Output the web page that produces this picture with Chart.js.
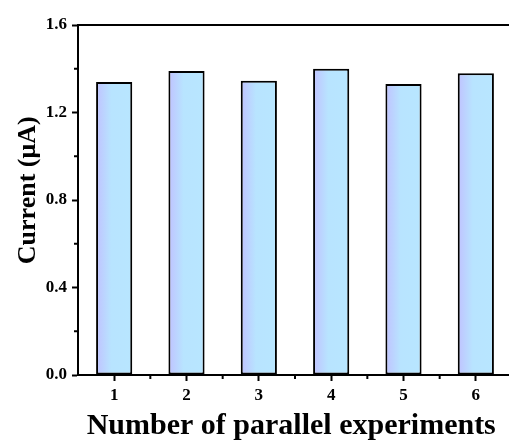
<!DOCTYPE html>
<html>
<head>
<meta charset="utf-8">
<script src="https://cdn.jsdelivr.net/npm/chart.js@4"></script>
<style>
  body { margin: 0; overflow: hidden; background: #fff; }
  #wrap { width: 514px; height: 447px; }
</style>
</head>
<body>
<div id="wrap"><canvas id="grafico"></canvas></div>
<script>
const categorias = ['1', '2', '3', '4', '5', '6'];
const correntes = [1.34, 1.39, 1.345, 1.40, 1.33, 1.38];
const ticksMaiores = [0, 0.4, 0.8, 1.2, 1.6];
const ticksMenores = [0.2, 0.6, 1.0, 1.4];

const fonte = 'Liberation Serif, "Times New Roman", serif';

function gradienteBarra(ctx) {
  const chart = ctx.chart;
  if (!chart.chartArea || ctx.dataIndex === undefined) return '#b8e4ff';
  const x = chart.scales.x;
  const centro = x.getPixelForValue(ctx.dataIndex);
  const meia = x.width / categorias.length / 4;
  const g = chart.ctx.createLinearGradient(centro - meia, 0, centro + meia, 0);
  g.addColorStop(0, '#c0c2ff');
  g.addColorStop(0.42, '#b8e4ff');
  g.addColorStop(1, '#b8e6ff');
  return g;
}

// linha de cima e ticks menores
const molduraPlugin = {
  id: 'moldura',
  afterDraw(chart) {
    const { ctx, chartArea, scales } = chart;
    ctx.save();
    ctx.strokeStyle = '#000';
    ctx.lineWidth = 2;
    ctx.beginPath();
    ctx.moveTo(chartArea.left - 1, chartArea.top);
    ctx.lineTo(chartArea.right + 2, chartArea.top);
    ctx.stroke();

    ticksMenores.forEach(v => {
      const y = scales.y.getPixelForValue(v);
      ctx.beginPath();
      ctx.moveTo(chartArea.left - 4, y);
      ctx.lineTo(chartArea.left, y);
      ctx.stroke();
    });
    for (let i = 0; i < categorias.length - 1; i++) {
      const x = scales.x.getPixelForValue(i + 0.5);
      ctx.beginPath();
      ctx.moveTo(x, chartArea.bottom);
      ctx.lineTo(x, chartArea.bottom + 4);
      ctx.stroke();
    }
    ctx.restore();
  }
};

new Chart(document.getElementById('grafico'), {
  type: 'bar',
  data: {
    labels: categorias,
    datasets: [{
      data: correntes,
      backgroundColor: gradienteBarra,
      borderColor: '#000',
      borderWidth: 2,
      borderSkipped: false,
      categoryPercentage: 0.5,
      barPercentage: 1
    }]
  },
  options: {
    responsive: true,
    maintainAspectRatio: false,
    animation: false,
    layout: { padding: { top: 25, right: 2, left: 0, bottom: 0 } },
    plugins: { legend: { display: false }, tooltip: { enabled: false } },
    scales: {
      x: {
        afterFit: s => { s.height = 72; },
        grid: { display: true, drawOnChartArea: false, offset: false, tickLength: 6, tickWidth: 2, tickColor: '#000' },
        border: { display: true, color: '#000', width: 2 },
        ticks: { color: '#000', padding: 4, font: { family: fonte, size: 17, weight: 'bold' } },
        title: {
          display: true,
          text: 'Number of parallel experiments\u00a0',
          color: '#000',
          padding: { top: 0, bottom: 3 },
          font: { family: fonte, size: 30, weight: 'bold' }
        }
      },
      y: {
        min: 0,
        max: 1.6,
        afterFit: s => { s.width = 78; },
        afterBuildTicks: s => { s.ticks = ticksMaiores.map(v => ({ value: v })); },
        grid: { display: true, drawOnChartArea: false, tickLength: 6, tickWidth: 2, tickColor: '#000' },
        border: { display: true, color: '#000', width: 2 },
        ticks: {
          color: '#000',
          padding: 5,
          font: { family: fonte, size: 17, weight: 'bold' },
          callback: v => v.toFixed(1)
        },
        title: {
          display: true,
          text: '\u00a0\u00a0\u00a0Current (μA)',
          color: '#000',
          padding: { top: 13, bottom: 0 },
          font: { family: fonte, size: 26, weight: 'bold' }
        }
      }
    }
  },
  plugins: [molduraPlugin]
});
</script>
</body>
</html>
